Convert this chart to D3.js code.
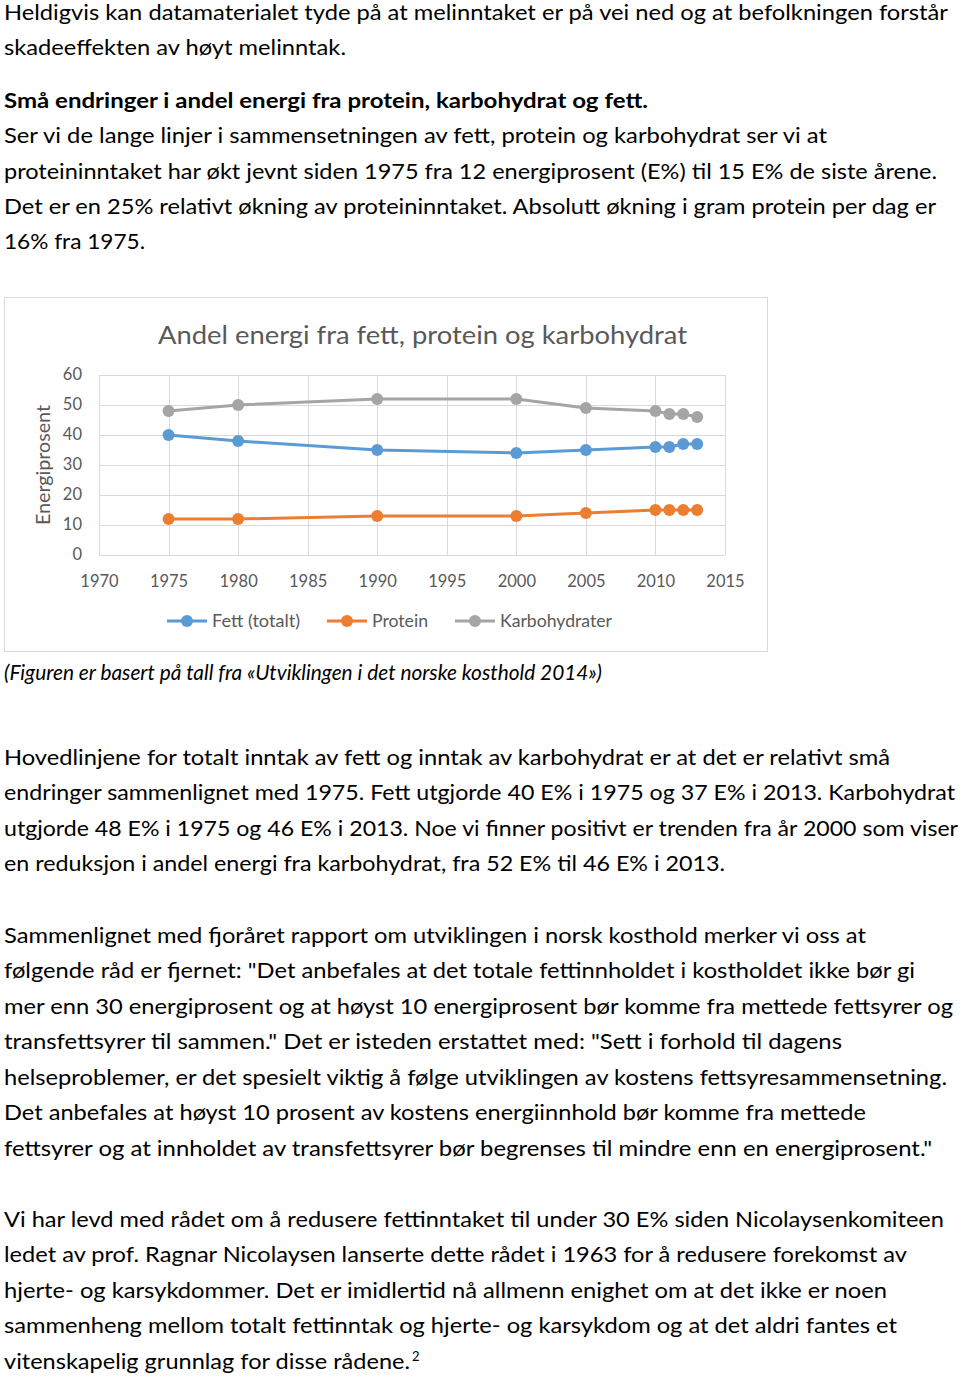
<!DOCTYPE html>
<html><head><meta charset="utf-8">
<script src="https://cdn.jsdelivr.net/npm/d3@7"></script>
<style>body{margin:0;background:#fff}svg{display:block}</style>
</head><body>
<script>
// ---- data ----
const years = [1975, 1980, 1990, 2000, 2005, 2010, 2011, 2012, 2013];
const fett = [40, 38, 35, 34, 35, 36, 36, 37, 37];
const protein = [12, 12, 13, 13, 14, 15, 15, 15, 15];
const karbo = [48, 50, 52, 52, 49, 48, 47, 47, 46];
const seriesNames = ["Fett (totalt)", "Protein", "Karbohydrater"];
const xTicks = [1970, 1975, 1980, 1985, 1990, 1995, 2000, 2005, 2010, 2015];
const yTicks = [0, 10, 20, 30, 40, 50, 60];
const chartTitle = "Andel energi fra fett, protein og karbohydrat";
const yLabel = "Energiprosent";

// body text lines: [text, baseline, width, style]
const textLines = [
  ["Heldigvis kan datamaterialet tyde på at melinntaket er på vei ned og at befolkningen forstår", 20, 944, ""],
  ["skadeeffekten av høyt melinntak.", 55, 342, ""],
  ["Små endringer i andel energi fra protein, karbohydrat og fett.", 108, 644, "bold"],
  ["Ser vi de lange linjer i sammensetningen av fett, protein og karbohydrat ser vi at", 143, 823, ""],
  ["proteininntaket har økt jevnt siden 1975 fra 12 energiprosent (E%) til 15 E% de siste årene.", 179, 933, ""],
  ["Det er en 25% relativt økning av proteininntaket. Absolutt økning i gram protein per dag er", 214, 932, ""],
  ["16% fra 1975.", 249, 141, ""],
  ["(Figuren er basert på tall fra «Utviklingen i det norske kosthold 2014»)", 680, 598, "italic"],
  ["Hovedlinjene for totalt inntak av fett og inntak av karbohydrat er at det er relativt små", 765, 886, ""],
  ["endringer sammenlignet med 1975. Fett utgjorde 40 E% i 1975 og 37 E% i 2013. Karbohydrat", 800, 951, ""],
  ["utgjorde 48 E% i 1975 og 46 E% i 2013. Noe vi finner positivt er trenden fra år 2000 som viser", 836, 954, ""],
  ["en reduksjon i andel energi fra karbohydrat, fra 52 E% til 46 E% i 2013.", 871, 721, ""],
  ["Sammenlignet med fjoråret rapport om utviklingen i norsk kosthold merker vi oss at", 943, 862, ""],
  ["følgende råd er fjernet: \"Det anbefales at det totale fettinnholdet i kostholdet ikke bør gi", 978, 911, ""],
  ["mer enn 30 energiprosent og at høyst 10 energiprosent bør komme fra mettede fettsyrer og", 1014, 949, ""],
  ["transfettsyrer til sammen.\" Det er isteden erstattet med: \"Sett i forhold til dagens", 1049, 838, ""],
  ["helseproblemer, er det spesielt viktig å følge utviklingen av kostens fettsyresammensetning.", 1085, 943, ""],
  ["Det anbefales at høyst 10 prosent av kostens energiinnhold bør komme fra mettede", 1120, 862, ""],
  ["fettsyrer og at innholdet av transfettsyrer bør begrenses til mindre enn en energiprosent.\"", 1156, 928, ""],
  ["Vi har levd med rådet om å redusere fettinntaket til under 30 E% siden Nicolaysenkomiteen", 1227, 940, ""],
  ["ledet av prof. Ragnar Nicolaysen lanserte dette rådet i 1963 for å redusere forekomst av", 1262, 903, ""],
  ["hjerte- og karsykdommer. Det er imidlertid nå allmenn enighet om at det ikke er noen", 1298, 883, ""],
  ["sammenheng mellom totalt fettinntak og hjerte- og karsykdom og at det aldri fantes et", 1333, 893, ""],
  ["vitenskapelig grunnlag for disse rådene.", 1369, 406, ""]
];

const W = 960, H = 1377;
const FONT = "Lato, 'Open Sans', sans-serif";
const svg = d3.select("body").append("svg").attr("width", W).attr("height", H)
  .style("font-family", FONT);

// body text
textLines.forEach(([t, y, w, st]) => {
  svg.append("text").attr("x", 4).attr("y", y)
    .attr("font-size", 20.5)
    .attr("font-weight", st === "bold" ? "bold" : "normal")
    .attr("font-style", st === "italic" ? "italic" : "normal")
    .attr("fill", "#000")
    .attr("textLength", w).attr("lengthAdjust", "spacingAndGlyphs")
    .text(t);
});
svg.append("text").attr("x", 412).attr("y", 1361).attr("font-size", 13).attr("fill", "#000").text("2");

// chart frame
svg.append("rect").attr("x", 4.5).attr("y", 297.5).attr("width", 763).attr("height", 354)
  .attr("fill", "#fff").attr("stroke", "#d9d9d9").attr("stroke-width", 1);

const x = d3.scaleLinear().domain([1970, 2015]).range([99, 725]);
const y = d3.scaleLinear().domain([0, 60]).range([555, 375]);

const g = svg.append("g");
// gridlines
g.selectAll(".hg").data(yTicks).join("line")
  .attr("x1", x(1970)).attr("x2", x(2015))
  .attr("y1", d => Math.round(y(d)) + 0.5).attr("y2", d => Math.round(y(d)) + 0.5)
  .attr("stroke", "#d9d9d9").attr("stroke-width", 1);
g.selectAll(".vg").data(xTicks).join("line")
  .attr("x1", d => Math.round(x(d)) + 0.5).attr("x2", d => Math.round(x(d)) + 0.5)
  .attr("y1", y(60)).attr("y2", y(0))
  .attr("stroke", "#d9d9d9").attr("stroke-width", 1);

// axes via d3
const yAxis = d3.axisLeft(y).tickValues(yTicks).tickSize(0).tickPadding(17);
const ya = svg.append("g").attr("transform", `translate(${x(1970)},0)`).call(yAxis);
ya.select(".domain").remove();
ya.selectAll("text").attr("font-size", 16.5).attr("fill", "#595959").style("font-family", FONT)
  .attr("dy", "0.3em");

const xAxis = d3.axisBottom(x).tickValues(xTicks).tickFormat(d3.format("d")).tickSize(0).tickPadding(20);
const xa = svg.append("g").attr("transform", `translate(0,${y(0)})`).call(xAxis);
xa.select(".domain").remove();
xa.selectAll("text").attr("font-size", 16.5).attr("fill", "#595959").style("font-family", FONT);

// title
svg.append("text").attr("x", 158).attr("y", 344).attr("font-size", 25).attr("fill", "#595959")
  .attr("textLength", 529).attr("lengthAdjust", "spacingAndGlyphs").text(chartTitle);
// y label
svg.append("text").attr("transform", "translate(50,465) rotate(-90)").attr("text-anchor", "middle")
  .attr("font-size", 19).attr("fill", "#595959")
  .attr("textLength", 120).attr("lengthAdjust", "spacingAndGlyphs").text(yLabel);

// series
const colors = ["#5b9bd5", "#ed7d31", "#a5a5a5"];
const seriesVals = [fett, protein, karbo];
const line = d3.line().x(d => x(d[0])).y(d => y(d[1]));
seriesVals.forEach((vals, i) => {
  const pts = years.map((yr, j) => [yr, vals[j]]);
  svg.append("path").datum(pts).attr("d", line).attr("fill", "none")
    .attr("stroke", colors[i]).attr("stroke-width", 3).attr("stroke-linejoin", "round");
  svg.selectAll(null).data(pts).join("circle")
    .attr("cx", d => x(d[0])).attr("cy", d => y(d[1])).attr("r", 6)
    .attr("fill", colors[i]);
});

// legend
const legX = [167, 327, 455];
const legW = [88, 56, 112];
seriesNames.forEach((n, i) => {
  const lg = svg.append("g").attr("transform", `translate(${legX[i]},621)`);
  lg.append("line").attr("x1", 0).attr("x2", 40).attr("stroke", colors[i]).attr("stroke-width", 3);
  lg.append("circle").attr("cx", 20).attr("r", 6).attr("fill", colors[i]);
  lg.append("text").attr("x", 45).attr("y", 6).attr("font-size", 17).attr("fill", "#595959")
    .attr("textLength", legW[i]).attr("lengthAdjust", "spacingAndGlyphs").text(n);
});
</script>
</body></html>
